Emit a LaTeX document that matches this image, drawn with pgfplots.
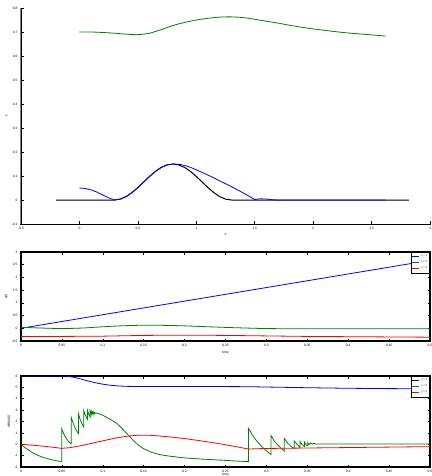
\documentclass[border=0pt]{standalone}
\usepackage{fontspec}
\setmainfont{Liberation Sans}
\usepackage{pgfplots}
\pgfplotsset{compat=1.18}
\definecolor{mgreen}{rgb}{0,0.5,0}
\definecolor{spine}{rgb}{0.5,0.5,0.5}
\newcommand{\tf}{\fontsize{3.3}{4}\selectfont}
\begin{document}
\begin{tikzpicture}[x=1pt,y=1pt]
\useasboundingbox (0,-476) rectangle (431,0);
\fill[spine] (20,-224.5) rectangle (22,-8);
\fill[black] (20,-225) rectangle (430.5,-223.6);
\pgfplotsset{
  base/.style={
    scale only axis, width=409pt,
    tick align=inside, major tick length=2.5pt,
    major tick style={black, line width=0.6pt},
    tick label style={font=\tf},
    label style={font=\tf},
    /pgf/number format/assume math mode=true,
    scaled ticks=false,
    xticklabel style={/pgf/number format/fixed},
    yticklabel style={/pgf/number format/fixed},
    every axis plot/.append style={line width=0.8pt},
    xlabel style={yshift=3pt},
    ylabel style={yshift=-3pt},
  },
  boxed/.style={
    base,
    axis line style={line width=1.2pt},
    legend style={at={(1,1)}, anchor=north east, draw=black, line width=0.9pt,
      font=\fontsize{2.6}{3}\selectfont, inner sep=0.5pt, row sep=-1.2pt,
      legend cell align=left},
    legend image code/.code={\draw[#1, line width=0.8pt] (0pt,0pt) -- (7pt,0pt);},
  }
}
% ---------------- top
\begin{axis}[base, at={(21pt,-224pt)}, anchor=south west, height=216pt,
  xmin=-0.5, xmax=3, ymin=-0.1, ymax=0.8, clip=false,
  axis x line*=bottom, axis y line*=left,
  major tick length=3pt,
  xtick={-0.5,0,0.5,1,1.5,2,2.5,3},
  ytick={-0.1,0,0.1,0.2,0.3,0.4,0.5,0.6,0.7,0.8},
  xlabel={x}, ylabel={y}]
\addplot[black, line width=1pt] coordinates {(-0.2,0) (0.3,0) (0.35,0.0037) (0.4,0.0143) (0.45,0.0309) (0.5,0.0518) (0.55,0.075) (0.6,0.0982) (0.65,0.1191) (0.7,0.1357) (0.75,0.1463) (0.8,0.15) (0.85,0.1463) (0.9,0.1357) (0.95,0.1191) (1.0,0.0982) (1.05,0.075) (1.1,0.0518) (1.15,0.0309) (1.2,0.0143) (1.25,0.0037) (1.3,0) (2.82,0)};
\addplot[blue] coordinates {(0,0.05) (0.05,0.048) (0.1,0.042) (0.15,0.033) (0.2,0.021) (0.25,0.009) (0.3,0.0) (0.35,0.0037) (0.4,0.0143) (0.45,0.0309) (0.5,0.0518) (0.55,0.075) (0.6,0.0982) (0.65,0.1191) (0.7,0.1357) (0.75,0.1463) (0.8,0.15) (0.85,0.149) (0.9,0.144) (0.95,0.136) (1.0,0.126) (1.05,0.115) (1.1,0.104) (1.2,0.08) (1.3,0.056) (1.4,0.03) (1.5,0.002) (1.55,0.005) (1.6,0.004) (1.65,0.001) (1.7,0) (2.62,0)};
\addplot[mgreen, smooth] coordinates {(0,0.70) (0.1,0.700) (0.2,0.698) (0.3,0.695) (0.4,0.691) (0.5,0.689) (0.6,0.695) (0.7,0.71) (0.8,0.727) (0.9,0.74) (1.0,0.75) (1.1,0.757) (1.2,0.762) (1.3,0.763) (1.4,0.76) (1.5,0.753) (1.6,0.745) (1.7,0.737) (1.8,0.728) (1.9,0.72) (2.0,0.713) (2.1,0.707) (2.2,0.701) (2.3,0.696) (2.4,0.692) (2.5,0.688) (2.62,0.683)};
\end{axis}
% ---------------- middle
\begin{axis}[boxed, at={(21pt,-341pt)}, anchor=south west, height=89pt,
  xmin=0, xmax=0.5, ymin=-0.5, ymax=3,
  xtick={0,0.05,0.1,0.15,0.2,0.25,0.3,0.35,0.4,0.45,0.5},
  ytick={-0.5,0,0.5,1,1.5,2,2.5,3},
  xlabel={time}, ylabel={u(t)}]
\addplot[blue] coordinates {(0,0.0) (0.5,2.67)};
\addplot[mgreen, smooth] coordinates {(0,0.04) (0.025,0.01) (0.05,-0.01) (0.075,0.01) (0.1,0.06) (0.125,0.1) (0.15,0.12) (0.175,0.115) (0.2,0.095) (0.225,0.065) (0.25,0.035) (0.275,0.01) (0.3,-0.01) (0.35,-0.02) (0.5,-0.02)};
\addplot[red] coordinates {(0,-0.32) (0.05,-0.32) (0.1,-0.31) (0.15,-0.28) (0.2,-0.27) (0.25,-0.28) (0.3,-0.3) (0.35,-0.32) (0.4,-0.33) (0.5,-0.35)};
\legend{x = 1, x = 2, x = 3}
\end{axis}
% ---------------- bottom
\begin{axis}[boxed, at={(21pt,-467pt)}, anchor=south west, height=91pt,
  xmin=0, xmax=0.5, ymin=-2, ymax=6,
  xtick={0,0.05,0.1,0.15,0.2,0.25,0.3,0.35,0.4,0.45,0.5},
  ytick={-2,-1,0,1,2,3,4,5,6},
  xlabel={time}, ylabel={d/dt(u(t))}, xlabel style={yshift=4pt}]
\addplot[blue] coordinates {(0,6) (0.05,6) (0.055,5.98) (0.06,5.95) (0.07,5.8) (0.08,5.6) (0.09,5.42) (0.1,5.28) (0.11,5.18) (0.12,5.12) (0.13,5.09) (0.14,5.08) (0.2,5.07) (0.25,5.07) (0.278,5.06) (0.3,5.03) (0.35,4.97) (0.4,4.92) (0.45,4.89) (0.5,4.88)};
\addplot[mgreen] coordinates {(0,0) (0.005,-0.3) (0.01,-0.55) (0.015,-0.78) (0.02,-0.95) (0.025,-1.1) (0.03,-1.22) (0.035,-1.32) (0.04,-1.4) (0.045,-1.47) (0.0497,-1.52)
(0.0497,1.38) (0.052,0.95) (0.055,0.55) (0.058,0.25) (0.0615,0.05)
(0.0615,2.35) (0.064,1.8) (0.067,1.3) (0.0702,0.95)
(0.0702,2.7) (0.072,2.25) (0.0745,1.8) (0.0768,1.5)
(0.0768,2.95) (0.079,2.5) (0.0812,2.2)
(0.0812,3.0) (0.083,2.6) (0.0845,2.4)
(0.0845,2.95) (0.0865,2.6)
(0.0865,2.9) (0.088,2.65)
(0.088,2.85) (0.0895,2.7) (0.0895,2.82) (0.091,2.72) (0.0925,2.75)
(0.1,2.55) (0.105,2.35) (0.11,2.15) (0.117,1.84) (0.124,1.35) (0.131,0.81) (0.137,0.35) (0.1434,-0.07) (0.15,-0.4) (0.16,-0.72) (0.17,-0.92) (0.18,-1.03) (0.19,-1.12) (0.2,-1.2) (0.22,-1.3) (0.24,-1.38) (0.26,-1.46) (0.278,-1.53)
(0.278,1.4) (0.283,0.8) (0.288,0.3) (0.293,-0.1) (0.298,-0.45) (0.3055,-0.9)
(0.3055,0.78) (0.31,0.25) (0.315,-0.15) (0.3218,-0.6)
(0.3218,0.52) (0.326,0.1) (0.33,-0.18) (0.334,-0.36)
(0.334,0.3) (0.338,-0.05) (0.341,-0.28)
(0.341,0.25) (0.344,-0.05) (0.3465,-0.2)
(0.3465,0.2) (0.349,-0.08) (0.3505,-0.12)
(0.3505,0.14) (0.352,-0.03) (0.354,0.12) (0.356,0.0) (0.358,0.08) (0.36,0.03) (0.5,0.03)};
\addplot[red] coordinates {(0,0.0) (0.01,-0.06) (0.02,-0.12) (0.03,-0.19) (0.04,-0.27) (0.0497,-0.36) (0.06,-0.3) (0.07,-0.17) (0.08,-0.02) (0.09,0.14) (0.1,0.3) (0.11,0.46) (0.12,0.6) (0.13,0.71) (0.14,0.78) (0.15,0.8) (0.16,0.78) (0.18,0.66) (0.2,0.5) (0.22,0.3) (0.24,0.08) (0.26,-0.17) (0.278,-0.42) (0.29,-0.39) (0.3,-0.37) (0.35,-0.33) (0.4,-0.29) (0.45,-0.25) (0.5,-0.21)};
\legend{y = 1, y = 2, y = 3}
\end{axis}
\end{tikzpicture}
\end{document}
